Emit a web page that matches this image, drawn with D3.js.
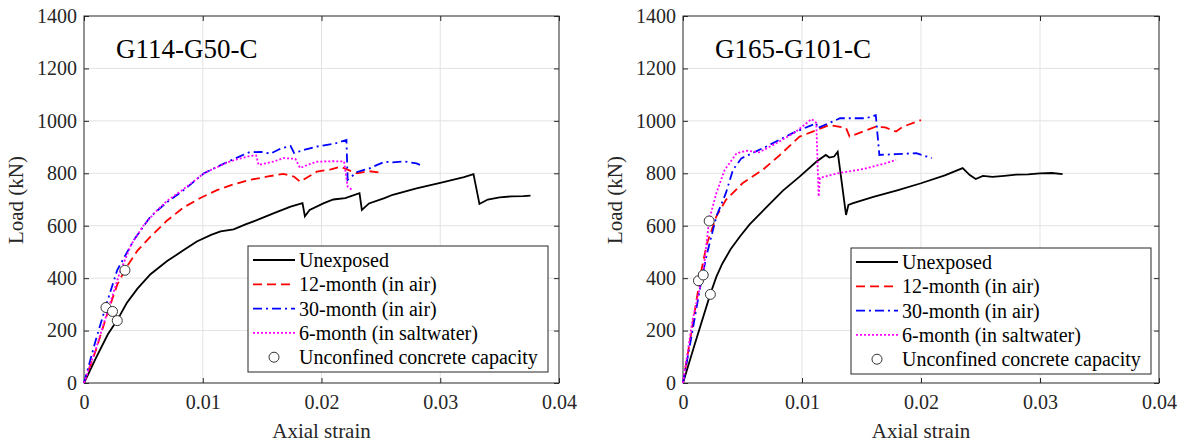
<!DOCTYPE html>
<html>
<head>
<meta charset="utf-8">
<script src="https://cdn.jsdelivr.net/npm/d3@7"></script>
<style>
body { margin: 0; background: #fff; }
</style>
</head>
<body>
<svg id="chart" width="1188" height="445"></svg>
<script>
// ---- data (axial strain, load kN) ----
var xTicks = [0, 0.01, 0.02, 0.03, 0.04];
var yTicks = [0, 200, 400, 600, 800, 1000, 1200, 1400];
var seriesNames = ["Unexposed", "12-month (in air)", "30-month (in air)", "6-month (in saltwater)"];
var circleName = "Unconfined concrete capacity";

// left: G114-G50-C
var leftUnexposed = [[0,0],[0.001,95],[0.002,185],[0.0028,240],[0.0036,305],[0.0045,360],[0.0056,415],[0.007,465],[0.0084,507],[0.0095,540],[0.0107,565],[0.0115,578],[0.0126,586],[0.0136,605],[0.0146,622],[0.016,648],[0.0174,673],[0.0184,686],[0.0186,636],[0.019,660],[0.0202,686],[0.021,700],[0.022,705],[0.0232,724],[0.0234,660],[0.024,685],[0.0253,705],[0.026,718],[0.028,742],[0.030,763],[0.032,785],[0.0328,797],[0.0333,683],[0.034,700],[0.035,708],[0.036,712],[0.037,713],[0.0376,715]];
var left12 = [[0,0],[0.001,125],[0.002,270],[0.0028,375],[0.0036,444],[0.0045,505],[0.0056,558],[0.007,620],[0.0084,670],[0.0098,706],[0.0112,736],[0.0126,758],[0.014,775],[0.0155,788],[0.0168,798],[0.0177,787],[0.0182,768],[0.0196,806],[0.0208,815],[0.0216,825],[0.0225,808],[0.023,800],[0.024,808],[0.0249,803]];
var left30 = [[0,0],[0.001,165],[0.002,317],[0.0028,431],[0.0042,546],[0.0056,635],[0.007,690],[0.0084,736],[0.0101,800],[0.0121,844],[0.0139,880],[0.0149,882],[0.0157,875],[0.0166,895],[0.0174,904],[0.0177,877],[0.0186,890],[0.0196,902],[0.021,912],[0.0221,927],[0.0222,775],[0.023,805],[0.024,818],[0.0253,844],[0.026,842],[0.027,845],[0.028,838],[0.0283,832]];
var leftSalt = [[0,0],[0.001,130],[0.002,275],[0.003,420],[0.004,530],[0.005,600],[0.006,652],[0.007,695],[0.0084,740],[0.0101,800],[0.0121,842],[0.013,855],[0.014,866],[0.0145,868],[0.0147,832],[0.016,845],[0.0168,858],[0.0178,855],[0.0182,820],[0.019,835],[0.0196,844],[0.021,846],[0.0219,845],[0.0222,749],[0.0226,736]];
var leftCircles = [[0.00185,288],[0.0024,273],[0.00345,430],[0.0028,238]];

// right: G165-G101-C
var rightUnexposed = [[0,0],[0.001,150],[0.0023,340],[0.0028,405],[0.0033,455],[0.004,510],[0.0048,560],[0.0056,605],[0.007,670],[0.0084,734],[0.0098,787],[0.0112,844],[0.012,870],[0.0123,860],[0.0127,864],[0.013,882],[0.0137,641],[0.0139,679],[0.0143,686],[0.016,710],[0.018,735],[0.020,762],[0.022,792],[0.0235,820],[0.0241,793],[0.0246,778],[0.0252,790],[0.026,786],[0.027,790],[0.028,795],[0.029,796],[0.030,800],[0.031,801],[0.0319,797]];
var right12 = [[0,0],[0.0008,220],[0.0015,420],[0.002,530],[0.0028,635],[0.0036,698],[0.005,762],[0.0067,813],[0.0081,868],[0.0098,940],[0.0109,959],[0.0123,984],[0.0137,973],[0.014,940],[0.0162,978],[0.017,975],[0.0179,959],[0.0185,978],[0.020,1003]];
var right30 = [[0,0],[0.0008,200],[0.0015,380],[0.002,490],[0.0028,635],[0.0036,724],[0.0042,813],[0.0049,857],[0.007,902],[0.0092,953],[0.0112,991],[0.0113,972],[0.0132,1010],[0.0154,1010],[0.0162,1022],[0.0165,870],[0.0179,873],[0.0196,877],[0.0209,858]];
var rightSalt = [[0,0],[0.0008,240],[0.0017,419],[0.0022,622],[0.0028,724],[0.0035,813],[0.0045,876],[0.0053,886],[0.0064,880],[0.0081,921],[0.0095,959],[0.0108,1007],[0.0112,992],[0.0114,711],[0.0115,782],[0.013,800],[0.015,815],[0.017,838],[0.0179,851]];
var rightCircles = [[0.0013,390],[0.0017,412],[0.0022,618],[0.0023,338]];

var styles = [
	{color: "#000000", dash: null},
	{color: "#ff0000", dash: "9,5"},
	{color: "#0000ff", dash: "9,4,2,4"},
	{color: "#ff00ff", dash: "2,2"}
];
var FONT = "Liberation Serif";

var svg = d3.select("#chart");

function drawPanel(p) {
	var x = d3.scaleLinear().domain([0, 0.04]).range([p.left, p.right]);
	var y = d3.scaleLinear().domain([0, 1400]).range([383, 16]);
	var g = svg.append("g");

	// grid
	g.selectAll(".gx").data(xTicks.slice(1, -1)).enter().append("line")
		.attr("x1", function(d) {return x(d);}).attr("x2", function(d) {return x(d);})
		.attr("y1", 16).attr("y2", 383)
		.attr("stroke", "#e3e3e3").attr("stroke-width", 1);
	g.selectAll(".gy").data(yTicks.slice(1, -1)).enter().append("line")
		.attr("y1", function(d) {return y(d);}).attr("y2", function(d) {return y(d);})
		.attr("x1", p.left).attr("x2", p.right)
		.attr("stroke", "#e3e3e3").attr("stroke-width", 1);

	// axes (matlab style, ticks inward)
	var xAxis = d3.axisBottom(x).tickValues(xTicks).tickSize(-5).tickPadding(12)
		.tickFormat(function(d) {return d === 0 ? "0" : d3.format(".2f")(d).replace(/0$/, "");});
	var yAxis = d3.axisLeft(y).tickValues(yTicks).tickSize(-5).tickPadding(7).tickFormat(d3.format("d"));
	var ax = g.append("g").attr("transform", "translate(0,383)").call(xAxis);
	var ay = g.append("g").attr("transform", "translate(" + p.left + ",0)").call(yAxis);
	g.append("g").attr("transform", "translate(0,16)")
		.call(d3.axisTop(x).tickValues(xTicks).tickSize(-5).tickFormat(""));
	g.append("g").attr("transform", "translate(" + p.right + ",0)")
		.call(d3.axisRight(y).tickValues(yTicks).tickSize(-5).tickFormat(""));
	g.selectAll(".domain").remove();
	g.selectAll(".tick line").attr("stroke", "#262626");
	[ax, ay].forEach(function(a) {
		a.attr("font-family", FONT).attr("font-size", 20);
		a.selectAll("text").attr("fill", "#262626");
	});
	g.append("rect").attr("x", p.left).attr("y", 16)
		.attr("width", p.right - p.left).attr("height", 367)
		.attr("fill", "none").attr("stroke", "#262626").attr("stroke-width", 1);

	// curves
	var line = d3.line().x(function(d) {return x(d[0]);}).y(function(d) {return y(d[1]);});
	p.series.forEach(function(s, i) {
		g.append("path").datum(s).attr("d", line)
			.attr("fill", "none").attr("stroke", styles[i].color)
			.attr("stroke-width", 1.8)
			.attr("stroke-dasharray", styles[i].dash);
	});
	g.selectAll(".pt").data(p.circles).enter().append("circle")
		.attr("cx", function(d) {return x(d[0]);}).attr("cy", function(d) {return y(d[1]);})
		.attr("r", 5).attr("fill", "#fff").attr("stroke", "#333").attr("stroke-width", 1);

	// title + labels
	g.append("text").attr("x", p.left + 32).attr("y", 58).text(p.title)
		.attr("font-family", FONT).attr("font-size", 27).attr("fill", "#000");
	g.append("text").attr("x", (p.left + p.right) / 2).attr("y", 438)
		.attr("text-anchor", "middle").attr("font-family", FONT).attr("font-size", 21)
		.attr("fill", "#262626").text("Axial strain");
	g.append("text").attr("transform", "translate(" + (p.left - 61) + ",200) rotate(-90)")
		.attr("text-anchor", "middle").attr("font-family", FONT).attr("font-size", 21)
		.attr("fill", "#262626").text("Load (kN)");

	// legend
	var lg = g.append("g").attr("transform", "translate(" + p.legX + "," + p.legY + ")");
	lg.append("rect").attr("width", 300).attr("height", 126)
		.attr("fill", "#fff").attr("stroke", "#262626").attr("stroke-width", 1);
	var rowH = 24.3;
	seriesNames.concat([circleName]).forEach(function(name, i) {
		var cy = 14 + i * rowH;
		if (i < 4) {
			lg.append("line").attr("x1", 5).attr("x2", 47).attr("y1", cy).attr("y2", cy)
				.attr("stroke", styles[i].color).attr("stroke-width", 1.8)
				.attr("stroke-dasharray", styles[i].dash);
		} else {
			lg.append("circle").attr("cx", 26).attr("cy", cy).attr("r", 5)
				.attr("fill", "#fff").attr("stroke", "#333");
		}
		lg.append("text").attr("x", 51).attr("y", cy + 7).text(name)
			.attr("font-family", FONT).attr("font-size", 20).attr("fill", "#000");
	});
}

drawPanel({left: 84, right: 559, title: "G114-G50-C", legX: 248, legY: 246,
	series: [leftUnexposed, left12, left30, leftSalt], circles: leftCircles});
drawPanel({left: 683, right: 1159, title: "G165-G101-C", legX: 851, legY: 248,
	series: [rightUnexposed, right12, right30, rightSalt], circles: rightCircles});
</script>
</body>
</html>
